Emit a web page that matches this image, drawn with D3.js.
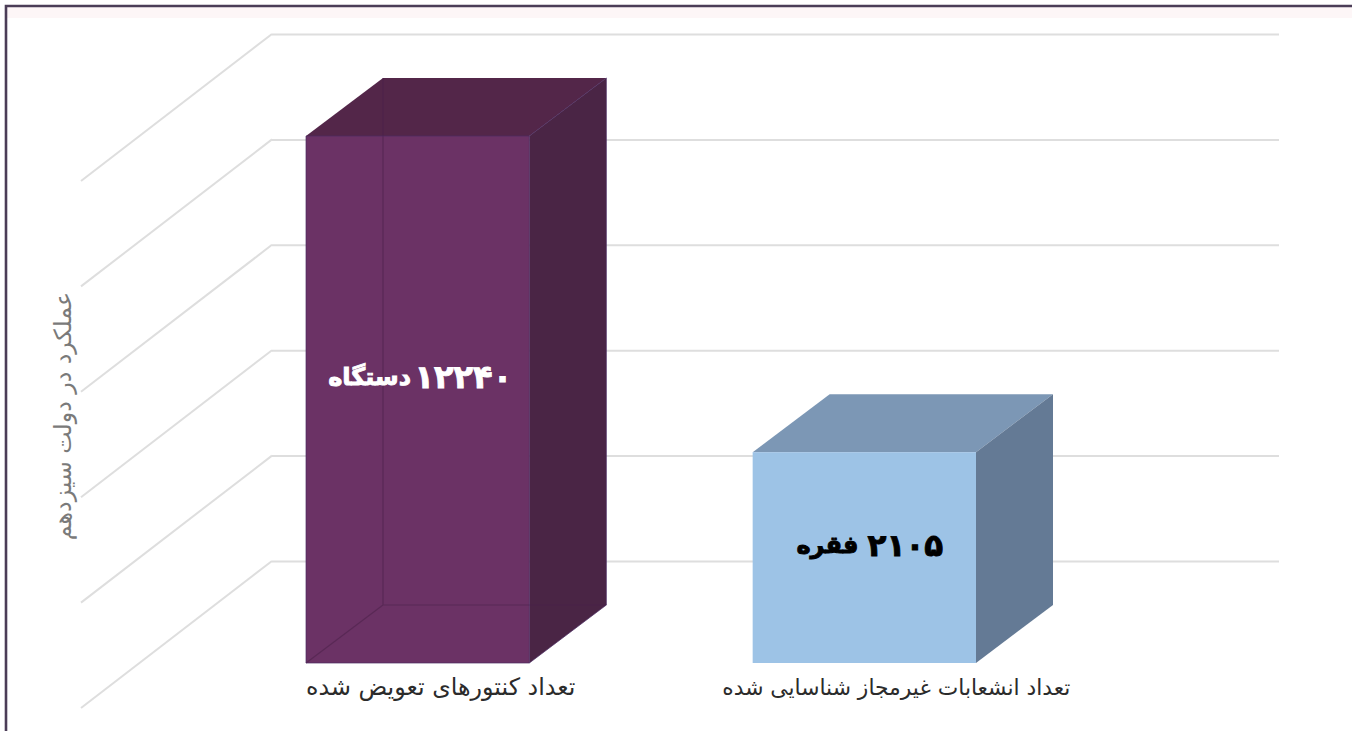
<!DOCTYPE html>
<html>
<head>
<meta charset="utf-8">
<script src="https://cdn.jsdelivr.net/npm/d3@7"></script>
<style>
  body { margin: 0; background: #fff; overflow: hidden; }
  text { font-family: "DejaVu Sans", sans-serif; }
</style>
</head>
<body>
<script>
// data, heights are in grid steps as drawn in the picture (no numeric ticks on it)
var categories = ["تعداد کنتورهای تعویض شده", "تعداد انشعابات غیرمجاز شناسایی شده"];
var heights = [5, 2];
var valueNumbers = ["۱۲۲۴۰", "۲۱۰۵"];
var valueUnits = ["دستگاه", "فقره"];
var gridLevels = [0, 1, 2, 3, 4, 5];
var axisTitle = "عملکرد در دولت سیزدهم";

var frontColors = ["#6b3265", "#9dc3e6"];
var topColors = ["#532649", "#7c97b5"];
var sideColors = ["#4a2545", "#647a95"];
var labelColors = ["#ffffff", "#000000"];
var innerLines = [true, false]; // only the purple box looks see-through

var svgWidth = 1352, svgHeight = 731;

var svg = d3.select("body").append("svg")
    .attr("width", svgWidth)
    .attr("height", svgHeight);

// frame at the top and left of the picture
svg.append("rect").attr("x", 7).attr("y", 7).attr("width", svgWidth).attr("height", 11).attr("fill", "#fdf6f7");
svg.append("path").attr("d", "M6,731V6H1352").attr("fill", "none").attr("stroke", "#4b3d57").attr("stroke-width", 2.6);

// back wall scale
var yScale = d3.scaleLinear().domain([0, 5]).range([561, 34]);
var wallX = 272, wallRight = 1279;

// front plane of the boxes
var xScale = d3.scaleBand().domain(categories).range([306, 976]).paddingInner(0.5).paddingOuter(0);

// 3d offsets
var floorDx = -191, floorDy = 147;
var frontDrop = 102, backDrop = 44; // how far below the wall level the box faces sit
var depthX = 77;

// gridlines, wall part comes from the axis
var gridAxis = d3.axisLeft(yScale).tickValues(gridLevels).tickSize(wallX - wallRight).tickFormat("");
var gridG = svg.append("g")
    .attr("transform", "translate(" + wallX + ",0)")
    .call(gridAxis);
gridG.select(".domain").remove();
gridG.selectAll("line").attr("stroke", "#dedede").attr("stroke-width", 2);

// floor part of the gridlines
svg.selectAll(".diag")
    .data(gridLevels)
    .enter()
    .append("line")
    .attr("class", "diag")
    .attr("x1", wallX)
    .attr("y1", d => yScale(d))
    .attr("x2", wallX + floorDx)
    .attr("y2", d => yScale(d) + floorDy)
    .attr("stroke", "#dedede")
    .attr("stroke-width", 2);

// boxes
var boxes = svg.selectAll(".box")
    .data(categories)
    .enter()
    .append("g")
    .attr("class", "box");

boxes.each(function (cat, i) {
    var g = d3.select(this);
    var x0 = xScale(cat), x1 = x0 + xScale.bandwidth();
    var bx0 = x0 + depthX, bx1 = x1 + depthX;
    var fTop = yScale(heights[i]) + frontDrop, fBot = yScale(0) + frontDrop;
    var bTop = yScale(heights[i]) + backDrop, bBot = yScale(0) + backDrop;

    g.append("path")
        .attr("d", d3.line()([[x0, fTop], [bx0, bTop], [bx1, bTop], [x1, fTop]]) + "Z")
        .attr("fill", topColors[i]);
    g.append("path")
        .attr("d", d3.line()([[x1, fTop], [bx1, bTop], [bx1, bBot], [x1, fBot]]) + "Z")
        .attr("fill", sideColors[i]);
    g.append("rect")
        .attr("x", x0)
        .attr("y", fTop)
        .attr("width", x1 - x0)
        .attr("height", fBot - fTop)
        .attr("fill", frontColors[i]);

    if (innerLines[i]) {
        g.append("path")
            .attr("d", "M" + bx0 + "," + bTop + "V" + bBot + "H" + bx1 + "M" + bx0 + "," + bBot + "L" + x0 + "," + fBot)
            .attr("fill", "none")
            .attr("stroke", "#4a2048")
            .attr("stroke-opacity", 0.55)
            .attr("stroke-width", 1.2);
        g.append("path")
            .attr("d", "M" + x0 + "," + fTop + "H" + x1 + "V" + fBot + "H" + x0 + "Z" + "M" + x1 + "," + fTop + "L" + bx1 + "," + bTop + "V" + bBot + "L" + x1 + "," + fBot)
            .attr("fill", "none")
            .attr("stroke", "#4a2b63")
            .attr("stroke-opacity", 0.7)
            .attr("stroke-width", 1);
    }
});

// value labels inside the boxes, digits are larger than the unit word
var labelCenterDx = [2.5, 5.5];
var labelDy = [241, 93];
var gapSizes = [10, 26];
var valueText = boxes.append("text")
    .attr("x", (d, i) => xScale(d) + xScale.bandwidth() / 2 + labelCenterDx[i])
    .attr("y", (d, i) => yScale(heights[i]) + frontDrop + labelDy[i])
    .attr("direction", "rtl")
    .attr("text-anchor", "middle")
    .attr("dominant-baseline", "central")
    .attr("font-weight", "bold")
    .attr("fill", (d, i) => labelColors[i])
    .attr("stroke", (d, i) => labelColors[i])
    .attr("stroke-width", 0.9);
valueText.append("tspan").attr("font-size", (d, i) => i == 0 ? 32 : 31).text((d, i) => valueNumbers[i]);
valueText.append("tspan").attr("font-size", (d, i) => gapSizes[i]).text(" ");
valueText.append("tspan").attr("font-size", 24).text((d, i) => valueUnits[i]);

// category labels
var catDx = [23, 32];
var catSizes = [23.8, 21.8];
var xAxis = d3.axisBottom(xScale).tickSize(0);
var xG = svg.append("g")
    .attr("transform", "translate(0,674)")
    .call(xAxis);
xG.select(".domain").remove();
xG.selectAll("text")
    .attr("dx", (d, i) => catDx[i])
    .attr("y", 21)
    .attr("dy", 0)
    .attr("direction", "rtl")
    .attr("font-size", (d, i) => catSizes[i])
    .attr("font-family", "'DejaVu Sans', sans-serif")
    .attr("fill", "#2b2b2b");

// y axis title
svg.append("text")
    .attr("transform", "translate(63,416) rotate(-90)")
    .attr("direction", "rtl")
    .attr("text-anchor", "middle")
    .attr("dominant-baseline", "central")
    .attr("font-size", 23.7)
    .attr("fill", "#7a7a7a")
    .text(axisTitle);
</script>
</body>
</html>
